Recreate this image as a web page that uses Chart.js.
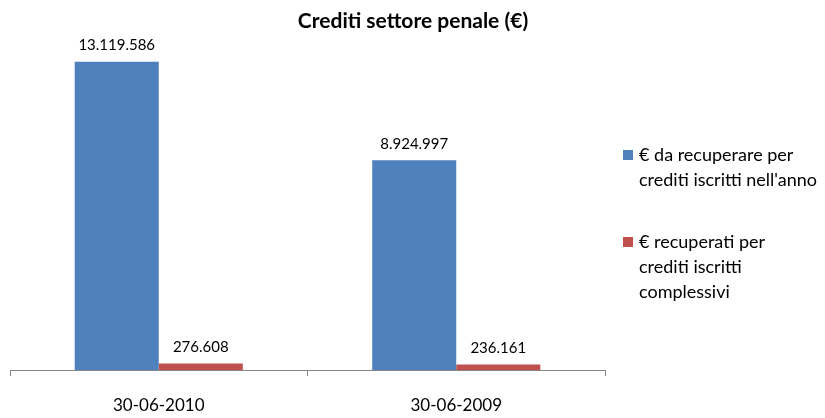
<!DOCTYPE html>
<html lang="it">
  <head>
    <meta charset="UTF-8" />
    <title>Crediti settore penale</title>
    <script src="https://cdn.jsdelivr.net/npm/chart.js@4.4.0/dist/chart.umd.min.js"></script>
    <style>
      html, body { margin: 0; padding: 0; background: #fff; }
      #wrap { width: 825px; height: 418px; }
    </style>
  </head>
  <body>
    <div id="wrap"><canvas id="myChart" width="825" height="418"></canvas></div>
    <script>
      const categories = ["30-06-2010", "30-06-2009"];
      const daRecuperare = [13119586, 8924997];
      const recuperati = [276608, 236161];
      const seriesNames = [
        ["€ da recuperare per", "crediti iscritti nell'anno"],
        ["€ recuperati per", "crediti iscritti", "complessivi"],
      ];
      const titleText = "Crediti settore penale (€)";
      const colors = ["#4F81BD", "#C0504D"];
      const FONT = "Lato, 'Open Sans', sans-serif";

      // thousands with dots, Italian style
      function fmt(n) {
        return String(n).replace(/\B(?=(\d{3})+(?!\d))/g, ".");
      }

      const valueLabels = {
        id: "valueLabels",
        afterDatasetsDraw(chart) {
          const c = chart.ctx;
          c.save();
          c.font = "15px " + FONT;
          c.fillStyle = "#000";
          c.textAlign = "center";
          c.textBaseline = "bottom";
          chart.data.datasets.forEach((ds, i) => {
            chart.getDatasetMeta(i).data.forEach((bar, j) => {
              c.fillText(fmt(ds.data[j]), bar.x, bar.y - 9);
            });
          });
          c.restore();
        },
      };

      // title centred on the whole picture + legend on the right
      const extras = {
        id: "extras",
        afterDraw(chart) {
          const c = chart.ctx;
          c.save();
          c.fillStyle = "#000";
          c.textAlign = "center";
          c.textBaseline = "middle";
          c.font = "bold 21px " + FONT;
          c.fillText(titleText, 413, 21);

          const tops = [150, 237];
          c.font = "18px " + FONT;
          c.textAlign = "left";
          seriesNames.forEach((lines, i) => {
            c.fillStyle = colors[i];
            c.fillRect(623, tops[i], 10, 10);
            c.fillStyle = "#000";
            lines.forEach((t, k) => c.fillText(t, 639, tops[i] + 5 + k * 25));
          });
          c.restore();
        },
      };

      new Chart(document.getElementById("myChart"), {
        type: "bar",
        data: {
          labels: categories,
          datasets: [
            { label: seriesNames[0].join(" "), data: daRecuperare, backgroundColor: colors[0] },
            { label: seriesNames[1].join(" "), data: recuperati, backgroundColor: colors[1] },
          ],
        },
        options: {
          responsive: false,
          animation: false,
          layout: { padding: { left: 10, right: 220, top: 41, bottom: 4 } },
          datasets: { bar: { barPercentage: 1, categoryPercentage: 0.565 } },
          plugins: {
            legend: { display: false },
            tooltip: { enabled: false },
            title: { display: false },
          },
          scales: {
            x: {
              grid: { offset: true, drawOnChartArea: false, tickLength: 6, color: "#868686" },
              border: { color: "#868686" },
              ticks: { color: "#000", padding: 19, font: { family: FONT, size: 17 } },
              afterFit(scale) { scale.height = 44; },
            },
            y: { display: false, min: 0, max: 14000000 },
          },
        },
        plugins: [valueLabels, extras],
      });
    </script>
  </body>
</html>
